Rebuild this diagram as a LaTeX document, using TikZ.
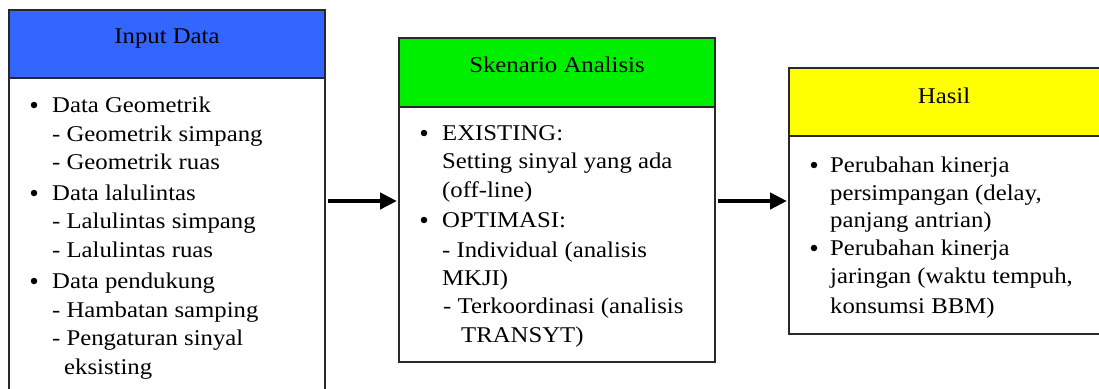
\documentclass[tikz,border=0pt]{standalone}
\usepackage{fontspec}
\setmainfont[FakeStretch=1.1]{Liberation Serif}
\usetikzlibrary{arrows.meta}
\definecolor{hdrblue}{RGB}{51,102,255}
\definecolor{hdrgreen}{RGB}{0,238,0}
\definecolor{hdryellow}{RGB}{255,255,0}
\definecolor{frame}{RGB}{40,40,40}
\begin{document}
\begin{tikzpicture}[x=1pt,y=-1pt,
  panel/.style={draw=frame,line width=1.6pt,fill=white},
  header/.style={draw=frame,line width=1.6pt},
  txt/.style={anchor=base west,inner sep=0pt,font=\fontsize{22.5}{26}\selectfont},
  ttl/.style={anchor=base,inner sep=0pt,font=\fontsize{22.5}{26}\selectfont},
  dot/.style={circle,fill=black,inner sep=0pt,minimum size=6.5pt},
  flow/.style={line width=4.5pt,-{Triangle[length=17pt,width=16pt]},shorten >=2pt,shorten <=3pt}]
\useasboundingbox (0,0) rectangle (1099,388);

% --- Input Data ---
\draw[panel] (9,78) rectangle (325,400);
\draw[header,fill=hdrblue] (9,10) rectangle (325,78);
\node[ttl] (t1) at (167,43) {Input Data};
\node[dot] at (34,105) {};
\node[txt] at (52,112) {Data Geometrik};
\node[txt] at (52,141) {- Geometrik simpang};
\node[txt] at (52,169) {- Geometrik ruas};
\node[dot] at (34,193) {};
\node[txt] at (52,200) {Data lalulintas};
\node[txt] at (52,228) {- Lalulintas simpang};
\node[txt] at (52,257) {- Lalulintas ruas};
\node[dot] at (34,281) {};
\node[txt] at (52,288) {Data pendukung};
\node[txt] at (52,317) {- Hambatan samping};
\node[txt] at (52,345) {- Pengaturan sinyal};
\node[txt] at (64,374) {eksisting};
\coordinate (out1) at (325,201);

% --- Skenario Analisis ---
\draw[panel] (399,107) rectangle (715,362);
\draw[header,fill=hdrgreen] (399,38) rectangle (715,107);
\node[ttl] (t2) at (557,72) {Skenario Analisis};
\node[dot] at (424,133) {};
\node[txt] at (442,140) {EXISTING:};
\node[txt] at (442,168) {Setting sinyal yang ada};
\node[txt] at (442,197) {(off-line)};
\node[dot] at (424,220) {};
\node[txt] at (442,227) {OPTIMASI:};
\node[txt] at (442,257) {- Individual (analisis};
\node[txt] at (442,285) {MKJI)};
\node[txt] at (443,313) {- Terkoordinasi (analisis};
\node[txt] at (461,342) {TRANSYT)};
\coordinate (in2) at (399,201);
\coordinate (out2) at (715,201);

% --- Hasil ---
\draw[panel] (789,136) rectangle (1110,334);
\draw[header,fill=hdryellow] (789,68) rectangle (1110,136);
\node[ttl] (t3) at (944,103) {Hasil};
\node[dot] at (814,165) {};
\node[txt] at (830,172) {Perubahan kinerja};
\node[txt] at (830,200) {persimpangan (delay,};
\node[txt] at (830,227) {panjang antrian)};
\node[dot] at (814,248) {};
\node[txt] at (830,255) {Perubahan kinerja};
\node[txt] at (830,283) {jaringan (waktu tempuh,};
\node[txt] at (830,313) {konsumsi BBM)};
\coordinate (in3) at (789,201);

% --- flow arrows ---
\draw[flow] (out1) -- (in2);
\draw[flow] (out2) -- (in3);
\end{tikzpicture}
\end{document}
